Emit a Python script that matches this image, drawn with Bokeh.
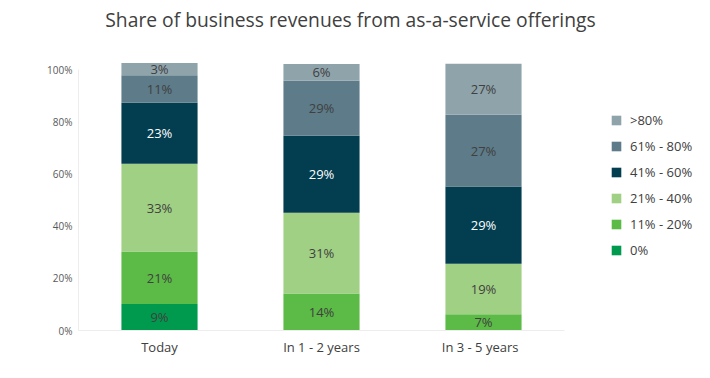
from bokeh.plotting import figure
from bokeh.models import (Range1d, Legend, LegendItem, Label,
                          ColumnDataSource, FixedTicker, PrintfTickFormatter)
from bokeh.core.properties import value
from bokeh.embed import file_html
from bokeh.resources import INLINE

categories = ["Today", "In 1 - 2 years", "In 3  -  5 years"]
series = ["0%", "11% - 20%", "21% - 40%", "41% - 60%", "61% - 80%", ">80%"]
colors = ["#009A4E", "#5CBA47", "#A0D084", "#023D50", "#5D7B88", "#8FA3AA"]

# segment heights as drawn in the picture (percent of axis)
seg_0 = [10.2, 0.0, 0.0]
seg_11_20 = [20.1, 14.2, 6.2]
seg_21_40 = [33.6, 30.9, 19.4]
seg_41_60 = [23.4, 29.5, 29.6]
seg_61_80 = [10.5, 21.1, 27.5]
seg_80 = [4.7, 6.4, 19.5]

# data labels as printed on the bars
lab_0 = ["9%", "", ""]
lab_11_20 = ["21%", "14%", "7%"]
lab_21_40 = ["33%", "31%", "19%"]
lab_41_60 = ["23%", "29%", "29%"]
lab_61_80 = ["11%", "29%", "27%"]
lab_80 = ["3%", "6%", "27%"]

y_ticks = [0, 20, 40, 60, 80, 100]
title_text = "Share of business revenues from as-a-service offerings"

FONT = "Open Sans"
segs = [seg_0, seg_11_20, seg_21_40, seg_41_60, seg_61_80, seg_80]
labs = [lab_0, lab_11_20, lab_21_40, lab_41_60, lab_61_80, lab_80]
label_colors = ["#404040", "#404040", "#404040", "#FFFFFF", "#404040", "#404040"]

xpos = [i + 0.5 for i in range(len(categories))]
data = {"x": xpos}
for name, s in zip(series, segs):
    data[name] = s
src = ColumnDataSource(data)

W, H = 694, 362
LEFT, BOTTOM = 78, 32
PX_PER_CAT = 162.0
PX_PER_PCT = 2.61

p = figure(width=W, height=H, output_backend="svg", toolbar_location=None,
           x_range=Range1d(0, (W - LEFT) / PX_PER_CAT),
           y_range=Range1d(0, (H - BOTTOM) / PX_PER_PCT),
           min_border_left=LEFT, min_border_right=0,
           min_border_top=0, min_border_bottom=BOTTOM)
p.outline_line_color = None
p.background_fill_color = "white"
p.border_fill_color = "white"

renderers = p.vbar_stack(series, x="x", width=0.47, source=src,
                         color=colors, line_color=None)

# data labels
lx, ly, lt, lc = [], [], [], []
for i, xv in enumerate(xpos):
    base = 0.0
    for s, l, col in zip(segs, labs, label_colors):
        if l[i]:
            lx.append(xv)
            ly.append(base + s[i] / 2)
            lt.append(l[i])
            lc.append(col)
        base += s[i]
p.text(x=lx, y=ly, text=lt, text_color=lc, text_align="center",
       text_baseline="middle", text_font=value(FONT), text_font_size="13px")

# axes
p.xgrid.visible = False
p.ygrid.visible = False
p.yaxis.ticker = FixedTicker(ticks=y_ticks)
p.yaxis.formatter = PrintfTickFormatter(format="%d%%")
p.yaxis.bounds = (0, 100)
p.yaxis.axis_line_color = "#EDEDED"
p.yaxis.major_tick_line_color = None
p.yaxis.major_tick_out = 0
p.yaxis.major_tick_in = 0
p.yaxis.minor_tick_line_color = None
p.yaxis.major_label_text_font = FONT
p.yaxis.major_label_text_font_size = "10px"
p.yaxis.major_label_text_color = "#595959"
p.yaxis.major_label_standoff = 6

p.xaxis.ticker = FixedTicker(ticks=xpos)
p.xaxis.major_label_overrides = {xv: c for xv, c in zip(xpos, categories)}
p.xaxis.bounds = (0, len(categories))
p.xaxis.axis_line_color = "#EDEDED"
p.xaxis.major_tick_line_color = None
p.xaxis.major_tick_out = 0
p.xaxis.major_tick_in = 0
p.xaxis.minor_tick_line_color = None
p.xaxis.major_label_text_font = FONT
p.xaxis.major_label_text_font_size = "13px"
p.xaxis.major_label_text_color = "#404040"
p.xaxis.major_label_standoff = 7

# legend (top item first)
items = [LegendItem(label=n, renderers=[r]) for n, r in zip(series, renderers)][::-1]
legend = Legend(items=items, location=(532, 70), border_line_color=None,
                background_fill_alpha=0, glyph_width=12, glyph_height=12,
                label_height=20, spacing=6, label_standoff=8, padding=10, margin=0,
                label_text_font=FONT, label_text_font_size="13px",
                label_text_color="#404040")
p.add_layout(legend, "center")

title = Label(x=(350 - LEFT) / PX_PER_CAT, y=(H - BOTTOM - 19) / PX_PER_PCT,
              text=title_text, text_align="center", text_baseline="middle",
              text_font=FONT, text_font_size="19.3px", text_color="#404040")
p.add_layout(title)

open("out.html", "w").write(file_html(p, INLINE))
